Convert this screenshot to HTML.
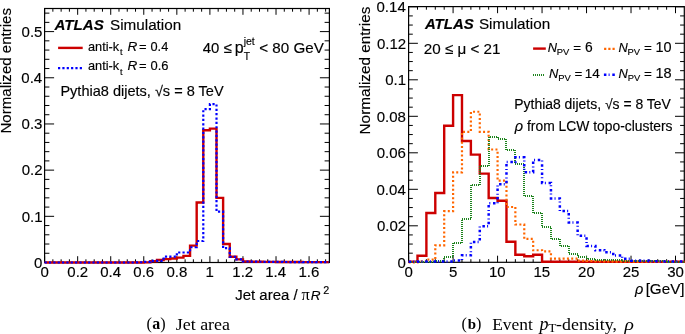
<!DOCTYPE html>
<html><head><meta charset="utf-8"><style>
html,body{margin:0;padding:0;background:#fff;}
text{stroke:#000;stroke-width:0.15px;}
body{width:685px;height:334px;overflow:hidden;}
svg{display:block;will-change:transform;}

</style></head><body>
<svg width="685" height="334" viewBox="0 0 685 334">
<rect width="685" height="334" fill="#fff"/>
<rect x="44.6" y="8.5" width="284.80" height="254.00" fill="none" stroke="#000" stroke-width="1.2"/>
<rect x="408.6" y="6.6" width="275.70" height="255.70" fill="none" stroke="#000" stroke-width="1.2"/>
<line x1="44.60" y1="262.50" x2="44.60" y2="256.20" stroke="#000" stroke-width="1.0"/>
<line x1="44.60" y1="8.50" x2="44.60" y2="14.80" stroke="#000" stroke-width="1.0"/>
<line x1="52.87" y1="262.50" x2="52.87" y2="259.30" stroke="#000" stroke-width="1.0"/>
<line x1="52.87" y1="8.50" x2="52.87" y2="11.70" stroke="#000" stroke-width="1.0"/>
<line x1="61.13" y1="262.50" x2="61.13" y2="259.30" stroke="#000" stroke-width="1.0"/>
<line x1="61.13" y1="8.50" x2="61.13" y2="11.70" stroke="#000" stroke-width="1.0"/>
<line x1="69.40" y1="262.50" x2="69.40" y2="259.30" stroke="#000" stroke-width="1.0"/>
<line x1="69.40" y1="8.50" x2="69.40" y2="11.70" stroke="#000" stroke-width="1.0"/>
<line x1="77.66" y1="262.50" x2="77.66" y2="256.20" stroke="#000" stroke-width="1.0"/>
<line x1="77.66" y1="8.50" x2="77.66" y2="14.80" stroke="#000" stroke-width="1.0"/>
<line x1="85.93" y1="262.50" x2="85.93" y2="259.30" stroke="#000" stroke-width="1.0"/>
<line x1="85.93" y1="8.50" x2="85.93" y2="11.70" stroke="#000" stroke-width="1.0"/>
<line x1="94.19" y1="262.50" x2="94.19" y2="259.30" stroke="#000" stroke-width="1.0"/>
<line x1="94.19" y1="8.50" x2="94.19" y2="11.70" stroke="#000" stroke-width="1.0"/>
<line x1="102.46" y1="262.50" x2="102.46" y2="259.30" stroke="#000" stroke-width="1.0"/>
<line x1="102.46" y1="8.50" x2="102.46" y2="11.70" stroke="#000" stroke-width="1.0"/>
<line x1="110.72" y1="262.50" x2="110.72" y2="256.20" stroke="#000" stroke-width="1.0"/>
<line x1="110.72" y1="8.50" x2="110.72" y2="14.80" stroke="#000" stroke-width="1.0"/>
<line x1="118.99" y1="262.50" x2="118.99" y2="259.30" stroke="#000" stroke-width="1.0"/>
<line x1="118.99" y1="8.50" x2="118.99" y2="11.70" stroke="#000" stroke-width="1.0"/>
<line x1="127.25" y1="262.50" x2="127.25" y2="259.30" stroke="#000" stroke-width="1.0"/>
<line x1="127.25" y1="8.50" x2="127.25" y2="11.70" stroke="#000" stroke-width="1.0"/>
<line x1="135.52" y1="262.50" x2="135.52" y2="259.30" stroke="#000" stroke-width="1.0"/>
<line x1="135.52" y1="8.50" x2="135.52" y2="11.70" stroke="#000" stroke-width="1.0"/>
<line x1="143.78" y1="262.50" x2="143.78" y2="256.20" stroke="#000" stroke-width="1.0"/>
<line x1="143.78" y1="8.50" x2="143.78" y2="14.80" stroke="#000" stroke-width="1.0"/>
<line x1="152.05" y1="262.50" x2="152.05" y2="259.30" stroke="#000" stroke-width="1.0"/>
<line x1="152.05" y1="8.50" x2="152.05" y2="11.70" stroke="#000" stroke-width="1.0"/>
<line x1="160.31" y1="262.50" x2="160.31" y2="259.30" stroke="#000" stroke-width="1.0"/>
<line x1="160.31" y1="8.50" x2="160.31" y2="11.70" stroke="#000" stroke-width="1.0"/>
<line x1="168.58" y1="262.50" x2="168.58" y2="259.30" stroke="#000" stroke-width="1.0"/>
<line x1="168.58" y1="8.50" x2="168.58" y2="11.70" stroke="#000" stroke-width="1.0"/>
<line x1="176.84" y1="262.50" x2="176.84" y2="256.20" stroke="#000" stroke-width="1.0"/>
<line x1="176.84" y1="8.50" x2="176.84" y2="14.80" stroke="#000" stroke-width="1.0"/>
<line x1="185.11" y1="262.50" x2="185.11" y2="259.30" stroke="#000" stroke-width="1.0"/>
<line x1="185.11" y1="8.50" x2="185.11" y2="11.70" stroke="#000" stroke-width="1.0"/>
<line x1="193.37" y1="262.50" x2="193.37" y2="259.30" stroke="#000" stroke-width="1.0"/>
<line x1="193.37" y1="8.50" x2="193.37" y2="11.70" stroke="#000" stroke-width="1.0"/>
<line x1="201.64" y1="262.50" x2="201.64" y2="259.30" stroke="#000" stroke-width="1.0"/>
<line x1="201.64" y1="8.50" x2="201.64" y2="11.70" stroke="#000" stroke-width="1.0"/>
<line x1="209.90" y1="262.50" x2="209.90" y2="256.20" stroke="#000" stroke-width="1.0"/>
<line x1="209.90" y1="8.50" x2="209.90" y2="14.80" stroke="#000" stroke-width="1.0"/>
<line x1="218.17" y1="262.50" x2="218.17" y2="259.30" stroke="#000" stroke-width="1.0"/>
<line x1="218.17" y1="8.50" x2="218.17" y2="11.70" stroke="#000" stroke-width="1.0"/>
<line x1="226.43" y1="262.50" x2="226.43" y2="259.30" stroke="#000" stroke-width="1.0"/>
<line x1="226.43" y1="8.50" x2="226.43" y2="11.70" stroke="#000" stroke-width="1.0"/>
<line x1="234.70" y1="262.50" x2="234.70" y2="259.30" stroke="#000" stroke-width="1.0"/>
<line x1="234.70" y1="8.50" x2="234.70" y2="11.70" stroke="#000" stroke-width="1.0"/>
<line x1="242.96" y1="262.50" x2="242.96" y2="256.20" stroke="#000" stroke-width="1.0"/>
<line x1="242.96" y1="8.50" x2="242.96" y2="14.80" stroke="#000" stroke-width="1.0"/>
<line x1="251.22" y1="262.50" x2="251.22" y2="259.30" stroke="#000" stroke-width="1.0"/>
<line x1="251.22" y1="8.50" x2="251.22" y2="11.70" stroke="#000" stroke-width="1.0"/>
<line x1="259.49" y1="262.50" x2="259.49" y2="259.30" stroke="#000" stroke-width="1.0"/>
<line x1="259.49" y1="8.50" x2="259.49" y2="11.70" stroke="#000" stroke-width="1.0"/>
<line x1="267.76" y1="262.50" x2="267.76" y2="259.30" stroke="#000" stroke-width="1.0"/>
<line x1="267.76" y1="8.50" x2="267.76" y2="11.70" stroke="#000" stroke-width="1.0"/>
<line x1="276.02" y1="262.50" x2="276.02" y2="256.20" stroke="#000" stroke-width="1.0"/>
<line x1="276.02" y1="8.50" x2="276.02" y2="14.80" stroke="#000" stroke-width="1.0"/>
<line x1="284.29" y1="262.50" x2="284.29" y2="259.30" stroke="#000" stroke-width="1.0"/>
<line x1="284.29" y1="8.50" x2="284.29" y2="11.70" stroke="#000" stroke-width="1.0"/>
<line x1="292.55" y1="262.50" x2="292.55" y2="259.30" stroke="#000" stroke-width="1.0"/>
<line x1="292.55" y1="8.50" x2="292.55" y2="11.70" stroke="#000" stroke-width="1.0"/>
<line x1="300.82" y1="262.50" x2="300.82" y2="259.30" stroke="#000" stroke-width="1.0"/>
<line x1="300.82" y1="8.50" x2="300.82" y2="11.70" stroke="#000" stroke-width="1.0"/>
<line x1="309.08" y1="262.50" x2="309.08" y2="256.20" stroke="#000" stroke-width="1.0"/>
<line x1="309.08" y1="8.50" x2="309.08" y2="14.80" stroke="#000" stroke-width="1.0"/>
<line x1="317.35" y1="262.50" x2="317.35" y2="259.30" stroke="#000" stroke-width="1.0"/>
<line x1="317.35" y1="8.50" x2="317.35" y2="11.70" stroke="#000" stroke-width="1.0"/>
<line x1="325.61" y1="262.50" x2="325.61" y2="259.30" stroke="#000" stroke-width="1.0"/>
<line x1="325.61" y1="8.50" x2="325.61" y2="11.70" stroke="#000" stroke-width="1.0"/>
<line x1="44.60" y1="262.50" x2="54.10" y2="262.50" stroke="#000" stroke-width="1.0"/>
<line x1="329.40" y1="262.50" x2="319.90" y2="262.50" stroke="#000" stroke-width="1.0"/>
<line x1="44.60" y1="253.26" x2="49.40" y2="253.26" stroke="#000" stroke-width="1.0"/>
<line x1="329.40" y1="253.26" x2="324.60" y2="253.26" stroke="#000" stroke-width="1.0"/>
<line x1="44.60" y1="244.03" x2="49.40" y2="244.03" stroke="#000" stroke-width="1.0"/>
<line x1="329.40" y1="244.03" x2="324.60" y2="244.03" stroke="#000" stroke-width="1.0"/>
<line x1="44.60" y1="234.79" x2="49.40" y2="234.79" stroke="#000" stroke-width="1.0"/>
<line x1="329.40" y1="234.79" x2="324.60" y2="234.79" stroke="#000" stroke-width="1.0"/>
<line x1="44.60" y1="225.56" x2="49.40" y2="225.56" stroke="#000" stroke-width="1.0"/>
<line x1="329.40" y1="225.56" x2="324.60" y2="225.56" stroke="#000" stroke-width="1.0"/>
<line x1="44.60" y1="216.32" x2="54.10" y2="216.32" stroke="#000" stroke-width="1.0"/>
<line x1="329.40" y1="216.32" x2="319.90" y2="216.32" stroke="#000" stroke-width="1.0"/>
<line x1="44.60" y1="207.08" x2="49.40" y2="207.08" stroke="#000" stroke-width="1.0"/>
<line x1="329.40" y1="207.08" x2="324.60" y2="207.08" stroke="#000" stroke-width="1.0"/>
<line x1="44.60" y1="197.85" x2="49.40" y2="197.85" stroke="#000" stroke-width="1.0"/>
<line x1="329.40" y1="197.85" x2="324.60" y2="197.85" stroke="#000" stroke-width="1.0"/>
<line x1="44.60" y1="188.61" x2="49.40" y2="188.61" stroke="#000" stroke-width="1.0"/>
<line x1="329.40" y1="188.61" x2="324.60" y2="188.61" stroke="#000" stroke-width="1.0"/>
<line x1="44.60" y1="179.38" x2="49.40" y2="179.38" stroke="#000" stroke-width="1.0"/>
<line x1="329.40" y1="179.38" x2="324.60" y2="179.38" stroke="#000" stroke-width="1.0"/>
<line x1="44.60" y1="170.14" x2="54.10" y2="170.14" stroke="#000" stroke-width="1.0"/>
<line x1="329.40" y1="170.14" x2="319.90" y2="170.14" stroke="#000" stroke-width="1.0"/>
<line x1="44.60" y1="160.90" x2="49.40" y2="160.90" stroke="#000" stroke-width="1.0"/>
<line x1="329.40" y1="160.90" x2="324.60" y2="160.90" stroke="#000" stroke-width="1.0"/>
<line x1="44.60" y1="151.67" x2="49.40" y2="151.67" stroke="#000" stroke-width="1.0"/>
<line x1="329.40" y1="151.67" x2="324.60" y2="151.67" stroke="#000" stroke-width="1.0"/>
<line x1="44.60" y1="142.43" x2="49.40" y2="142.43" stroke="#000" stroke-width="1.0"/>
<line x1="329.40" y1="142.43" x2="324.60" y2="142.43" stroke="#000" stroke-width="1.0"/>
<line x1="44.60" y1="133.20" x2="49.40" y2="133.20" stroke="#000" stroke-width="1.0"/>
<line x1="329.40" y1="133.20" x2="324.60" y2="133.20" stroke="#000" stroke-width="1.0"/>
<line x1="44.60" y1="123.96" x2="54.10" y2="123.96" stroke="#000" stroke-width="1.0"/>
<line x1="329.40" y1="123.96" x2="319.90" y2="123.96" stroke="#000" stroke-width="1.0"/>
<line x1="44.60" y1="114.72" x2="49.40" y2="114.72" stroke="#000" stroke-width="1.0"/>
<line x1="329.40" y1="114.72" x2="324.60" y2="114.72" stroke="#000" stroke-width="1.0"/>
<line x1="44.60" y1="105.49" x2="49.40" y2="105.49" stroke="#000" stroke-width="1.0"/>
<line x1="329.40" y1="105.49" x2="324.60" y2="105.49" stroke="#000" stroke-width="1.0"/>
<line x1="44.60" y1="96.25" x2="49.40" y2="96.25" stroke="#000" stroke-width="1.0"/>
<line x1="329.40" y1="96.25" x2="324.60" y2="96.25" stroke="#000" stroke-width="1.0"/>
<line x1="44.60" y1="87.02" x2="49.40" y2="87.02" stroke="#000" stroke-width="1.0"/>
<line x1="329.40" y1="87.02" x2="324.60" y2="87.02" stroke="#000" stroke-width="1.0"/>
<line x1="44.60" y1="77.78" x2="54.10" y2="77.78" stroke="#000" stroke-width="1.0"/>
<line x1="329.40" y1="77.78" x2="319.90" y2="77.78" stroke="#000" stroke-width="1.0"/>
<line x1="44.60" y1="68.54" x2="49.40" y2="68.54" stroke="#000" stroke-width="1.0"/>
<line x1="329.40" y1="68.54" x2="324.60" y2="68.54" stroke="#000" stroke-width="1.0"/>
<line x1="44.60" y1="59.31" x2="49.40" y2="59.31" stroke="#000" stroke-width="1.0"/>
<line x1="329.40" y1="59.31" x2="324.60" y2="59.31" stroke="#000" stroke-width="1.0"/>
<line x1="44.60" y1="50.07" x2="49.40" y2="50.07" stroke="#000" stroke-width="1.0"/>
<line x1="329.40" y1="50.07" x2="324.60" y2="50.07" stroke="#000" stroke-width="1.0"/>
<line x1="44.60" y1="40.84" x2="49.40" y2="40.84" stroke="#000" stroke-width="1.0"/>
<line x1="329.40" y1="40.84" x2="324.60" y2="40.84" stroke="#000" stroke-width="1.0"/>
<line x1="44.60" y1="31.60" x2="54.10" y2="31.60" stroke="#000" stroke-width="1.0"/>
<line x1="329.40" y1="31.60" x2="319.90" y2="31.60" stroke="#000" stroke-width="1.0"/>
<line x1="44.60" y1="22.36" x2="49.40" y2="22.36" stroke="#000" stroke-width="1.0"/>
<line x1="329.40" y1="22.36" x2="324.60" y2="22.36" stroke="#000" stroke-width="1.0"/>
<line x1="44.60" y1="13.13" x2="49.40" y2="13.13" stroke="#000" stroke-width="1.0"/>
<line x1="329.40" y1="13.13" x2="324.60" y2="13.13" stroke="#000" stroke-width="1.0"/>
<line x1="408.60" y1="262.30" x2="408.60" y2="255.70" stroke="#000" stroke-width="1.0"/>
<line x1="408.60" y1="6.60" x2="408.60" y2="13.20" stroke="#000" stroke-width="1.0"/>
<line x1="417.50" y1="262.30" x2="417.50" y2="259.20" stroke="#000" stroke-width="1.0"/>
<line x1="417.50" y1="6.60" x2="417.50" y2="9.70" stroke="#000" stroke-width="1.0"/>
<line x1="426.39" y1="262.30" x2="426.39" y2="259.20" stroke="#000" stroke-width="1.0"/>
<line x1="426.39" y1="6.60" x2="426.39" y2="9.70" stroke="#000" stroke-width="1.0"/>
<line x1="435.29" y1="262.30" x2="435.29" y2="259.20" stroke="#000" stroke-width="1.0"/>
<line x1="435.29" y1="6.60" x2="435.29" y2="9.70" stroke="#000" stroke-width="1.0"/>
<line x1="444.19" y1="262.30" x2="444.19" y2="259.20" stroke="#000" stroke-width="1.0"/>
<line x1="444.19" y1="6.60" x2="444.19" y2="9.70" stroke="#000" stroke-width="1.0"/>
<line x1="453.09" y1="262.30" x2="453.09" y2="255.70" stroke="#000" stroke-width="1.0"/>
<line x1="453.09" y1="6.60" x2="453.09" y2="13.20" stroke="#000" stroke-width="1.0"/>
<line x1="461.98" y1="262.30" x2="461.98" y2="259.20" stroke="#000" stroke-width="1.0"/>
<line x1="461.98" y1="6.60" x2="461.98" y2="9.70" stroke="#000" stroke-width="1.0"/>
<line x1="470.88" y1="262.30" x2="470.88" y2="259.20" stroke="#000" stroke-width="1.0"/>
<line x1="470.88" y1="6.60" x2="470.88" y2="9.70" stroke="#000" stroke-width="1.0"/>
<line x1="479.78" y1="262.30" x2="479.78" y2="259.20" stroke="#000" stroke-width="1.0"/>
<line x1="479.78" y1="6.60" x2="479.78" y2="9.70" stroke="#000" stroke-width="1.0"/>
<line x1="488.67" y1="262.30" x2="488.67" y2="259.20" stroke="#000" stroke-width="1.0"/>
<line x1="488.67" y1="6.60" x2="488.67" y2="9.70" stroke="#000" stroke-width="1.0"/>
<line x1="497.57" y1="262.30" x2="497.57" y2="255.70" stroke="#000" stroke-width="1.0"/>
<line x1="497.57" y1="6.60" x2="497.57" y2="13.20" stroke="#000" stroke-width="1.0"/>
<line x1="506.47" y1="262.30" x2="506.47" y2="259.20" stroke="#000" stroke-width="1.0"/>
<line x1="506.47" y1="6.60" x2="506.47" y2="9.70" stroke="#000" stroke-width="1.0"/>
<line x1="515.36" y1="262.30" x2="515.36" y2="259.20" stroke="#000" stroke-width="1.0"/>
<line x1="515.36" y1="6.60" x2="515.36" y2="9.70" stroke="#000" stroke-width="1.0"/>
<line x1="524.26" y1="262.30" x2="524.26" y2="259.20" stroke="#000" stroke-width="1.0"/>
<line x1="524.26" y1="6.60" x2="524.26" y2="9.70" stroke="#000" stroke-width="1.0"/>
<line x1="533.16" y1="262.30" x2="533.16" y2="259.20" stroke="#000" stroke-width="1.0"/>
<line x1="533.16" y1="6.60" x2="533.16" y2="9.70" stroke="#000" stroke-width="1.0"/>
<line x1="542.06" y1="262.30" x2="542.06" y2="255.70" stroke="#000" stroke-width="1.0"/>
<line x1="542.06" y1="6.60" x2="542.06" y2="13.20" stroke="#000" stroke-width="1.0"/>
<line x1="550.95" y1="262.30" x2="550.95" y2="259.20" stroke="#000" stroke-width="1.0"/>
<line x1="550.95" y1="6.60" x2="550.95" y2="9.70" stroke="#000" stroke-width="1.0"/>
<line x1="559.85" y1="262.30" x2="559.85" y2="259.20" stroke="#000" stroke-width="1.0"/>
<line x1="559.85" y1="6.60" x2="559.85" y2="9.70" stroke="#000" stroke-width="1.0"/>
<line x1="568.75" y1="262.30" x2="568.75" y2="259.20" stroke="#000" stroke-width="1.0"/>
<line x1="568.75" y1="6.60" x2="568.75" y2="9.70" stroke="#000" stroke-width="1.0"/>
<line x1="577.64" y1="262.30" x2="577.64" y2="259.20" stroke="#000" stroke-width="1.0"/>
<line x1="577.64" y1="6.60" x2="577.64" y2="9.70" stroke="#000" stroke-width="1.0"/>
<line x1="586.54" y1="262.30" x2="586.54" y2="255.70" stroke="#000" stroke-width="1.0"/>
<line x1="586.54" y1="6.60" x2="586.54" y2="13.20" stroke="#000" stroke-width="1.0"/>
<line x1="595.44" y1="262.30" x2="595.44" y2="259.20" stroke="#000" stroke-width="1.0"/>
<line x1="595.44" y1="6.60" x2="595.44" y2="9.70" stroke="#000" stroke-width="1.0"/>
<line x1="604.33" y1="262.30" x2="604.33" y2="259.20" stroke="#000" stroke-width="1.0"/>
<line x1="604.33" y1="6.60" x2="604.33" y2="9.70" stroke="#000" stroke-width="1.0"/>
<line x1="613.23" y1="262.30" x2="613.23" y2="259.20" stroke="#000" stroke-width="1.0"/>
<line x1="613.23" y1="6.60" x2="613.23" y2="9.70" stroke="#000" stroke-width="1.0"/>
<line x1="622.13" y1="262.30" x2="622.13" y2="259.20" stroke="#000" stroke-width="1.0"/>
<line x1="622.13" y1="6.60" x2="622.13" y2="9.70" stroke="#000" stroke-width="1.0"/>
<line x1="631.03" y1="262.30" x2="631.03" y2="255.70" stroke="#000" stroke-width="1.0"/>
<line x1="631.03" y1="6.60" x2="631.03" y2="13.20" stroke="#000" stroke-width="1.0"/>
<line x1="639.92" y1="262.30" x2="639.92" y2="259.20" stroke="#000" stroke-width="1.0"/>
<line x1="639.92" y1="6.60" x2="639.92" y2="9.70" stroke="#000" stroke-width="1.0"/>
<line x1="648.82" y1="262.30" x2="648.82" y2="259.20" stroke="#000" stroke-width="1.0"/>
<line x1="648.82" y1="6.60" x2="648.82" y2="9.70" stroke="#000" stroke-width="1.0"/>
<line x1="657.72" y1="262.30" x2="657.72" y2="259.20" stroke="#000" stroke-width="1.0"/>
<line x1="657.72" y1="6.60" x2="657.72" y2="9.70" stroke="#000" stroke-width="1.0"/>
<line x1="666.61" y1="262.30" x2="666.61" y2="259.20" stroke="#000" stroke-width="1.0"/>
<line x1="666.61" y1="6.60" x2="666.61" y2="9.70" stroke="#000" stroke-width="1.0"/>
<line x1="675.51" y1="262.30" x2="675.51" y2="255.70" stroke="#000" stroke-width="1.0"/>
<line x1="675.51" y1="6.60" x2="675.51" y2="13.20" stroke="#000" stroke-width="1.0"/>
<line x1="408.60" y1="262.30" x2="417.90" y2="262.30" stroke="#000" stroke-width="1.0"/>
<line x1="684.30" y1="262.30" x2="675.00" y2="262.30" stroke="#000" stroke-width="1.0"/>
<line x1="408.60" y1="253.18" x2="412.80" y2="253.18" stroke="#000" stroke-width="1.0"/>
<line x1="684.30" y1="253.18" x2="680.10" y2="253.18" stroke="#000" stroke-width="1.0"/>
<line x1="408.60" y1="244.05" x2="412.80" y2="244.05" stroke="#000" stroke-width="1.0"/>
<line x1="684.30" y1="244.05" x2="680.10" y2="244.05" stroke="#000" stroke-width="1.0"/>
<line x1="408.60" y1="234.93" x2="412.80" y2="234.93" stroke="#000" stroke-width="1.0"/>
<line x1="684.30" y1="234.93" x2="680.10" y2="234.93" stroke="#000" stroke-width="1.0"/>
<line x1="408.60" y1="225.80" x2="417.90" y2="225.80" stroke="#000" stroke-width="1.0"/>
<line x1="684.30" y1="225.80" x2="675.00" y2="225.80" stroke="#000" stroke-width="1.0"/>
<line x1="408.60" y1="216.68" x2="412.80" y2="216.68" stroke="#000" stroke-width="1.0"/>
<line x1="684.30" y1="216.68" x2="680.10" y2="216.68" stroke="#000" stroke-width="1.0"/>
<line x1="408.60" y1="207.55" x2="412.80" y2="207.55" stroke="#000" stroke-width="1.0"/>
<line x1="684.30" y1="207.55" x2="680.10" y2="207.55" stroke="#000" stroke-width="1.0"/>
<line x1="408.60" y1="198.43" x2="412.80" y2="198.43" stroke="#000" stroke-width="1.0"/>
<line x1="684.30" y1="198.43" x2="680.10" y2="198.43" stroke="#000" stroke-width="1.0"/>
<line x1="408.60" y1="189.30" x2="417.90" y2="189.30" stroke="#000" stroke-width="1.0"/>
<line x1="684.30" y1="189.30" x2="675.00" y2="189.30" stroke="#000" stroke-width="1.0"/>
<line x1="408.60" y1="180.18" x2="412.80" y2="180.18" stroke="#000" stroke-width="1.0"/>
<line x1="684.30" y1="180.18" x2="680.10" y2="180.18" stroke="#000" stroke-width="1.0"/>
<line x1="408.60" y1="171.05" x2="412.80" y2="171.05" stroke="#000" stroke-width="1.0"/>
<line x1="684.30" y1="171.05" x2="680.10" y2="171.05" stroke="#000" stroke-width="1.0"/>
<line x1="408.60" y1="161.93" x2="412.80" y2="161.93" stroke="#000" stroke-width="1.0"/>
<line x1="684.30" y1="161.93" x2="680.10" y2="161.93" stroke="#000" stroke-width="1.0"/>
<line x1="408.60" y1="152.80" x2="417.90" y2="152.80" stroke="#000" stroke-width="1.0"/>
<line x1="684.30" y1="152.80" x2="675.00" y2="152.80" stroke="#000" stroke-width="1.0"/>
<line x1="408.60" y1="143.68" x2="412.80" y2="143.68" stroke="#000" stroke-width="1.0"/>
<line x1="684.30" y1="143.68" x2="680.10" y2="143.68" stroke="#000" stroke-width="1.0"/>
<line x1="408.60" y1="134.55" x2="412.80" y2="134.55" stroke="#000" stroke-width="1.0"/>
<line x1="684.30" y1="134.55" x2="680.10" y2="134.55" stroke="#000" stroke-width="1.0"/>
<line x1="408.60" y1="125.43" x2="412.80" y2="125.43" stroke="#000" stroke-width="1.0"/>
<line x1="684.30" y1="125.43" x2="680.10" y2="125.43" stroke="#000" stroke-width="1.0"/>
<line x1="408.60" y1="116.30" x2="417.90" y2="116.30" stroke="#000" stroke-width="1.0"/>
<line x1="684.30" y1="116.30" x2="675.00" y2="116.30" stroke="#000" stroke-width="1.0"/>
<line x1="408.60" y1="107.18" x2="412.80" y2="107.18" stroke="#000" stroke-width="1.0"/>
<line x1="684.30" y1="107.18" x2="680.10" y2="107.18" stroke="#000" stroke-width="1.0"/>
<line x1="408.60" y1="98.05" x2="412.80" y2="98.05" stroke="#000" stroke-width="1.0"/>
<line x1="684.30" y1="98.05" x2="680.10" y2="98.05" stroke="#000" stroke-width="1.0"/>
<line x1="408.60" y1="88.93" x2="412.80" y2="88.93" stroke="#000" stroke-width="1.0"/>
<line x1="684.30" y1="88.93" x2="680.10" y2="88.93" stroke="#000" stroke-width="1.0"/>
<line x1="408.60" y1="79.80" x2="417.90" y2="79.80" stroke="#000" stroke-width="1.0"/>
<line x1="684.30" y1="79.80" x2="675.00" y2="79.80" stroke="#000" stroke-width="1.0"/>
<line x1="408.60" y1="70.68" x2="412.80" y2="70.68" stroke="#000" stroke-width="1.0"/>
<line x1="684.30" y1="70.68" x2="680.10" y2="70.68" stroke="#000" stroke-width="1.0"/>
<line x1="408.60" y1="61.55" x2="412.80" y2="61.55" stroke="#000" stroke-width="1.0"/>
<line x1="684.30" y1="61.55" x2="680.10" y2="61.55" stroke="#000" stroke-width="1.0"/>
<line x1="408.60" y1="52.43" x2="412.80" y2="52.43" stroke="#000" stroke-width="1.0"/>
<line x1="684.30" y1="52.43" x2="680.10" y2="52.43" stroke="#000" stroke-width="1.0"/>
<line x1="408.60" y1="43.30" x2="417.90" y2="43.30" stroke="#000" stroke-width="1.0"/>
<line x1="684.30" y1="43.30" x2="675.00" y2="43.30" stroke="#000" stroke-width="1.0"/>
<line x1="408.60" y1="34.18" x2="412.80" y2="34.18" stroke="#000" stroke-width="1.0"/>
<line x1="684.30" y1="34.18" x2="680.10" y2="34.18" stroke="#000" stroke-width="1.0"/>
<line x1="408.60" y1="25.05" x2="412.80" y2="25.05" stroke="#000" stroke-width="1.0"/>
<line x1="684.30" y1="25.05" x2="680.10" y2="25.05" stroke="#000" stroke-width="1.0"/>
<line x1="408.60" y1="15.92" x2="412.80" y2="15.92" stroke="#000" stroke-width="1.0"/>
<line x1="684.30" y1="15.92" x2="680.10" y2="15.92" stroke="#000" stroke-width="1.0"/>
<line x1="408.60" y1="6.80" x2="417.90" y2="6.80" stroke="#000" stroke-width="1.0"/>
<line x1="684.30" y1="6.80" x2="675.00" y2="6.80" stroke="#000" stroke-width="1.0"/>
<path d="M44.60,262.50 L51.21,262.50 L51.21,262.50 L57.82,262.50 L57.82,262.50 L64.44,262.50 L64.44,262.50 L71.05,262.50 L71.05,262.50 L77.66,262.50 L77.66,262.50 L84.27,262.50 L84.27,262.50 L90.88,262.50 L90.88,262.50 L97.50,262.50 L97.50,262.50 L104.11,262.50 L104.11,262.50 L110.72,262.50 L110.72,262.50 L117.33,262.50 L117.33,262.50 L123.94,262.50 L123.94,262.50 L130.56,262.50 L130.56,262.50 L137.17,262.50 L137.17,262.50 L143.78,262.50 L143.78,262.41 L150.39,262.41 L150.39,261.30 L157.00,261.30 L157.00,260.01 L163.62,260.01 L163.62,259.08 L170.23,259.08 L170.23,258.48 L176.84,258.48 L176.84,257.60 L183.45,257.60 L183.45,255.90 L190.06,255.90 L190.06,245.60 L196.68,245.60 L196.68,202.47 L203.29,202.47 L203.29,130.19 L209.90,130.19 L209.90,128.58 L216.51,128.58 L216.51,197.85 L223.12,197.85 L223.12,244.03 L229.74,244.03 L229.74,256.73 L236.35,256.73 L236.35,259.36 L242.96,259.36 L242.96,261.48 L249.57,261.48 L249.57,261.67 L256.18,261.67 L256.18,261.76 L262.80,261.76 L262.80,261.85 L269.41,261.85 L269.41,261.90 L276.02,261.90 L276.02,261.95 L282.63,261.95 L282.63,261.99 L289.24,261.99 L289.24,262.04 L295.86,262.04 L295.86,262.04 L302.47,262.04 L302.47,262.08 L309.08,262.08 L309.08,262.08 L315.69,262.08 L315.69,262.13 L322.30,262.13 L322.30,262.13 L328.92,262.13" fill="none" stroke="#cc0000" stroke-width="2.4" stroke-linejoin="miter" stroke-linecap="butt"/>
<path d="M44.60,262.50 L51.21,262.50 L51.21,262.50 L57.82,262.50 L57.82,262.50 L64.44,262.50 L64.44,262.50 L71.05,262.50 L71.05,262.50 L77.66,262.50 L77.66,262.50 L84.27,262.50 L84.27,262.50 L90.88,262.50 L90.88,262.50 L97.50,262.50 L97.50,262.50 L104.11,262.50 L104.11,262.50 L110.72,262.50 L110.72,262.50 L117.33,262.50 L117.33,262.50 L123.94,262.50 L123.94,262.50 L130.56,262.50 L130.56,262.50 L137.17,262.50 L137.17,262.27 L143.78,262.27 L143.78,261.95 L150.39,261.95 L150.39,260.88 L157.00,260.88 L157.00,260.88 L163.62,260.88 L163.62,256.68 L170.23,256.68 L170.23,256.68 L176.84,256.68 L176.84,252.48 L183.45,252.48 L183.45,252.48 L190.06,252.48 L190.06,247.26 L196.68,247.26 L196.68,240.98 L203.29,240.98 L203.29,109.18 L209.90,109.18 L209.90,104.10 L216.51,104.10 L216.51,211.70 L223.12,211.70 L223.12,248.18 L229.74,248.18 L229.74,256.73 L236.35,256.73 L236.35,259.36 L242.96,259.36 L242.96,261.48 L249.57,261.48 L249.57,261.67 L256.18,261.67 L256.18,261.76 L262.80,261.76 L262.80,261.85 L269.41,261.85 L269.41,261.90 L276.02,261.90 L276.02,261.95 L282.63,261.95 L282.63,261.99 L289.24,261.99 L289.24,262.04 L295.86,262.04 L295.86,262.04 L302.47,262.04 L302.47,262.08 L309.08,262.08 L309.08,262.08 L315.69,262.08 L315.69,262.13 L322.30,262.13 L322.30,262.13 L328.92,262.13" fill="none" stroke="#0000ff" stroke-width="2.2" stroke-linejoin="miter" stroke-linecap="butt" stroke-dasharray="2.2 2.15"/>
<path d="M408.60,261.75 L417.50,261.75 L417.50,255.73 L426.39,255.73 L426.39,213.03 L435.29,213.03 L435.29,192.95 L444.19,192.95 L444.19,125.79 L453.09,125.79 L453.09,95.13 L461.98,95.13 L461.98,140.94 L470.88,140.94 L470.88,154.62 L479.78,154.62 L479.78,173.61 L488.67,173.61 L488.67,198.06 L497.57,198.06 L497.57,200.80 L506.47,200.80 L506.47,241.68 L515.36,241.68 L515.36,254.82 L524.26,254.82 L524.26,256.28 L533.16,256.28 L533.16,254.82 L542.06,254.82 L542.06,261.75 L550.95,261.75 L550.95,261.75 L559.85,261.75 L559.85,261.75 L568.75,261.75 L568.75,261.75 L577.64,261.75 L577.64,261.75 L586.54,261.75 L586.54,261.75 L595.44,261.75 L595.44,261.75 L604.33,261.75 L604.33,261.75 L613.23,261.75 L613.23,261.75 L622.13,261.75 L622.13,261.75 L631.03,261.75 L631.03,261.75 L639.92,261.75 L639.92,261.75 L648.82,261.75 L648.82,261.75 L657.72,261.75 L657.72,261.75 L666.61,261.75 L666.61,261.75 L675.51,261.75 L675.51,261.75 L684.41,261.75" fill="none" stroke="#cc0000" stroke-width="2.4" stroke-linejoin="miter" stroke-linecap="butt"/>
<path d="M408.60,262.30 L417.50,262.30 L417.50,261.39 L426.39,261.39 L426.39,259.56 L435.29,259.56 L435.29,245.33 L444.19,245.33 L444.19,211.20 L453.09,211.20 L453.09,172.33 L461.98,172.33 L461.98,131.81 L470.88,131.81 L470.88,111.74 L479.78,111.74 L479.78,131.81 L488.67,131.81 L488.67,149.52 L497.57,149.52 L497.57,180.72 L506.47,180.72 L506.47,207.00 L515.36,207.00 L515.36,224.52 L524.26,224.52 L524.26,238.94 L533.16,238.94 L533.16,250.26 L542.06,250.26 L542.06,251.35 L550.95,251.35 L550.95,258.65 L559.85,258.65 L559.85,258.65 L568.75,258.65 L568.75,258.65 L577.64,258.65 L577.64,260.66 L586.54,260.66 L586.54,261.02 L595.44,261.02 L595.44,261.20 L604.33,261.20 L604.33,261.39 L613.23,261.39 L613.23,261.57 L622.13,261.57 L622.13,261.57 L631.03,261.57 L631.03,261.75 L639.92,261.75 L639.92,261.75 L648.82,261.75 L648.82,261.75 L657.72,261.75 L657.72,261.94 L666.61,261.94 L666.61,261.94 L675.51,261.94 L675.51,261.94 L684.41,261.94" fill="none" stroke="#ff6600" stroke-width="2.2" stroke-linejoin="miter" stroke-linecap="butt" stroke-dasharray="2 2.3"/>
<path d="M409.00,262.00 L417.00,262.00 L417.00,262.00 L426.00,262.00 L426.00,262.00 L435.00,262.00 L435.00,261.00 L444.00,261.00 L444.00,257.00 L453.00,257.00 L453.00,243.00 L462.00,243.00 L462.00,219.00 L471.00,219.00 L471.00,185.00 L480.00,185.00 L480.00,166.00 L489.00,166.00 L489.00,137.00 L498.00,137.00 L498.00,139.00 L506.00,139.00 L506.00,150.00 L515.00,150.00 L515.00,164.00 L524.00,164.00 L524.00,196.00 L533.00,196.00 L533.00,213.00 L542.00,213.00 L542.00,227.00 L551.00,227.00 L551.00,239.00 L560.00,239.00 L560.00,246.00 L569.00,246.00 L569.00,254.00 L578.00,254.00 L578.00,257.00 L587.00,257.00 L587.00,259.00 L595.00,259.00 L595.00,260.00 L604.00,260.00 L604.00,260.00 L613.00,260.00 L613.00,260.00 L622.00,260.00 L622.00,261.00 L631.00,261.00 L631.00,261.00 L640.00,261.00 L640.00,261.00 L649.00,261.00 L649.00,261.00 L658.00,261.00 L658.00,261.00 L667.00,261.00 L667.00,262.00 L676.00,262.00 L676.00,262.00 L684.00,262.00" fill="none" stroke="#1e841e" stroke-width="2.0" stroke-linejoin="miter" stroke-linecap="butt" stroke-dasharray="1 1"/>
<path d="M408.60,261.75 L417.50,261.75 L417.50,261.57 L426.39,261.57 L426.39,261.57 L435.29,261.57 L435.29,261.39 L444.19,261.39 L444.19,261.39 L453.09,261.39 L453.09,260.48 L461.98,260.48 L461.98,255.37 L470.88,255.37 L470.88,242.04 L479.78,242.04 L479.78,226.35 L488.67,226.35 L488.67,203.35 L497.57,203.35 L497.57,184.19 L506.47,184.19 L506.47,161.93 L515.36,161.93 L515.36,157.36 L524.26,157.36 L524.26,172.15 L533.16,172.15 L533.16,160.10 L542.06,160.10 L542.06,182.91 L550.95,182.91 L550.95,198.43 L559.85,198.43 L559.85,211.02 L568.75,211.02 L568.75,222.52 L577.64,222.52 L577.64,235.84 L586.54,235.84 L586.54,245.88 L595.44,245.88 L595.44,250.26 L604.33,250.26 L604.33,252.26 L613.23,252.26 L613.23,255.55 L622.13,255.55 L622.13,258.65 L631.03,258.65 L631.03,260.66 L639.92,260.66 L639.92,260.66 L648.82,260.66 L648.82,261.20 L657.72,261.20 L657.72,261.39 L666.61,261.39 L666.61,261.39 L675.51,261.39 L675.51,261.57 L684.41,261.57" fill="none" stroke="#0000ff" stroke-width="2.5" stroke-linejoin="miter" stroke-linecap="butt" stroke-dasharray="2.5 2.2 1 2.7"/>
<text transform="translate(11.4,133.54) rotate(-90)" font-size="15.07" font-family='"Liberation Sans", sans-serif'>Normalized entries</text>
<text x="21.55" y="36.80" font-size="15.00" font-family='"Liberation Sans", sans-serif' fill="#000">0.5</text>
<text x="21.36" y="82.98" font-size="15.00" font-family='"Liberation Sans", sans-serif' fill="#000">0.4</text>
<text x="21.59" y="129.16" font-size="15.00" font-family='"Liberation Sans", sans-serif' fill="#000">0.3</text>
<text x="21.70" y="175.34" font-size="15.00" font-family='"Liberation Sans", sans-serif' fill="#000">0.2</text>
<text x="21.66" y="221.52" font-size="15.00" font-family='"Liberation Sans", sans-serif' fill="#000">0.1</text>
<text x="34.04" y="267.70" font-size="15.00" font-family='"Liberation Sans", sans-serif' fill="#000">0</text>
<text x="40.42" y="276.90" font-size="15.00" font-family='"Liberation Sans", sans-serif' fill="#000">0</text>
<text x="67.31" y="276.90" font-size="15.00" font-family='"Liberation Sans", sans-serif' fill="#000">0.2</text>
<text x="100.20" y="276.90" font-size="15.00" font-family='"Liberation Sans", sans-serif' fill="#000">0.4</text>
<text x="133.37" y="276.90" font-size="15.00" font-family='"Liberation Sans", sans-serif' fill="#000">0.6</text>
<text x="166.43" y="276.90" font-size="15.00" font-family='"Liberation Sans", sans-serif' fill="#000">0.8</text>
<text x="205.53" y="276.90" font-size="15.00" font-family='"Liberation Sans", sans-serif' fill="#000">1</text>
<text x="232.35" y="276.90" font-size="15.00" font-family='"Liberation Sans", sans-serif' fill="#000">1.2</text>
<text x="265.24" y="276.90" font-size="15.00" font-family='"Liberation Sans", sans-serif' fill="#000">1.4</text>
<text x="298.41" y="276.90" font-size="15.00" font-family='"Liberation Sans", sans-serif' fill="#000">1.6</text>
<text x="235.18" y="300.40" font-size="14.99" font-family='"Liberation Sans", sans-serif' fill="#000">Jet area /</text>
<text x="301.60" y="300.40" font-size="16.34" font-family='"Liberation Serif", serif' style="stroke-width:0" fill="#000">π</text>
<text x="310.79" y="300.30" font-size="13.58" font-family='"Liberation Sans", sans-serif' font-style="italic" fill="#000">R</text>
<text x="323.36" y="293.60" font-size="10.77" font-family='"Liberation Sans", sans-serif' fill="#000">2</text>
<text x="54.50" y="30.10" font-size="15.14" font-family='"Liberation Sans", sans-serif' font-style="italic" font-weight="bold" fill="#000">ATLAS</text>
<text x="110.01" y="30.10" font-size="15.26" font-family='"Liberation Sans", sans-serif' fill="#000">Simulation</text>
<line x1="58.10" y1="47.90" x2="82.70" y2="47.90" stroke="#cc0000" stroke-width="2.4"/>
<line x1="58.00" y1="68.10" x2="82.90" y2="68.10" stroke="#0000ff" stroke-width="2.2" stroke-dasharray="2.2 2.15"/>
<text x="87.96" y="50.60" font-size="12.78" font-family='"Liberation Sans", sans-serif' fill="#000">anti-k</text>
<text x="119.96" y="55.40" font-size="9.00" font-family='"Liberation Sans", sans-serif' fill="#000">t</text>
<text x="127.49" y="50.60" font-size="13.58" font-family='"Liberation Sans", sans-serif' font-style="italic" fill="#000">R</text>
<text x="138.98" y="50.60" font-size="13.00" font-family='"Liberation Sans", sans-serif' fill="#000">=</text>
<text x="150.49" y="50.60" font-size="12.78" font-family='"Liberation Sans", sans-serif' fill="#000">0.4</text>
<text x="87.96" y="69.90" font-size="12.78" font-family='"Liberation Sans", sans-serif' fill="#000">anti-k</text>
<text x="119.96" y="74.70" font-size="9.00" font-family='"Liberation Sans", sans-serif' fill="#000">t</text>
<text x="127.49" y="69.90" font-size="13.58" font-family='"Liberation Sans", sans-serif' font-style="italic" fill="#000">R</text>
<text x="138.98" y="69.90" font-size="13.00" font-family='"Liberation Sans", sans-serif' fill="#000">=</text>
<text x="150.48" y="69.90" font-size="12.93" font-family='"Liberation Sans", sans-serif' fill="#000">0.6</text>
<text x="202.76" y="53.00" font-size="14.91" font-family='"Liberation Sans", sans-serif' fill="#000">40 ≤</text>
<text x="234.76" y="53.00" font-size="16.50" font-family='"Liberation Sans", sans-serif' fill="#000" textLength="8.90" lengthAdjust="spacingAndGlyphs">p</text>
<text x="243.66" y="44.60" font-size="10.54" font-family='"Liberation Sans", sans-serif' fill="#000">jet</text>
<text x="243.67" y="60.20" font-size="10.27" font-family='"Liberation Sans", sans-serif' fill="#000">T</text>
<text x="259.24" y="53.00" font-size="15.20" font-family='"Liberation Sans", sans-serif' fill="#000">&lt; 80 GeV</text>
<text x="60.40" y="95.80" font-size="14.54" font-family='"Liberation Sans", sans-serif' fill="#000">Pythia8 dijets, √s = 8 TeV</text>
<text transform="translate(369.8,134.46) rotate(-90)" font-size="15.33" font-family='"Liberation Sans", sans-serif'>Normalized entries</text>
<text x="397.54" y="267.50" font-size="15.00" font-family='"Liberation Sans", sans-serif' fill="#000">0</text>
<text x="376.88" y="231.00" font-size="15.00" font-family='"Liberation Sans", sans-serif' fill="#000">0.02</text>
<text x="376.54" y="194.50" font-size="15.00" font-family='"Liberation Sans", sans-serif' fill="#000">0.04</text>
<text x="376.76" y="158.00" font-size="15.00" font-family='"Liberation Sans", sans-serif' fill="#000">0.06</text>
<text x="376.76" y="121.50" font-size="15.00" font-family='"Liberation Sans", sans-serif' fill="#000">0.08</text>
<text x="385.16" y="85.00" font-size="15.00" font-family='"Liberation Sans", sans-serif' fill="#000">0.1</text>
<text x="376.88" y="48.50" font-size="15.00" font-family='"Liberation Sans", sans-serif' fill="#000">0.12</text>
<text x="376.54" y="12.00" font-size="15.00" font-family='"Liberation Sans", sans-serif' fill="#000">0.14</text>
<text x="404.42" y="276.90" font-size="15.00" font-family='"Liberation Sans", sans-serif' fill="#000">0</text>
<text x="448.92" y="276.90" font-size="15.00" font-family='"Liberation Sans", sans-serif' fill="#000">5</text>
<text x="488.96" y="276.90" font-size="15.00" font-family='"Liberation Sans", sans-serif' fill="#000">10</text>
<text x="533.47" y="276.90" font-size="15.00" font-family='"Liberation Sans", sans-serif' fill="#000">15</text>
<text x="578.12" y="276.90" font-size="15.00" font-family='"Liberation Sans", sans-serif' fill="#000">20</text>
<text x="622.63" y="276.90" font-size="15.00" font-family='"Liberation Sans", sans-serif' fill="#000">25</text>
<text x="667.18" y="276.90" font-size="15.00" font-family='"Liberation Sans", sans-serif' fill="#000">30</text>
<text x="634.96" y="294.40" font-size="14.50" font-family='"Liberation Sans", sans-serif' font-style="italic" fill="#000">ρ</text>
<text x="645.63" y="294.40" font-size="15.22" font-family='"Liberation Sans", sans-serif' fill="#000">[GeV]</text>
<text x="424.90" y="28.60" font-size="14.98" font-family='"Liberation Sans", sans-serif' font-style="italic" font-weight="bold" fill="#000">ATLAS</text>
<text x="478.91" y="28.60" font-size="15.26" font-family='"Liberation Sans", sans-serif' fill="#000">Simulation</text>
<text x="423.84" y="54.40" font-size="15.20" font-family='"Liberation Sans", sans-serif' fill="#000">20 ≤ μ &lt; 21</text>
<line x1="533.10" y1="48.60" x2="545.80" y2="48.60" stroke="#cc0000" stroke-width="2.4"/>
<line x1="604.10" y1="48.80" x2="615.20" y2="48.80" stroke="#ff6600" stroke-width="2.2" stroke-dasharray="2.2 2.0"/>
<line x1="533.00" y1="75.00" x2="545.00" y2="75.00" stroke="#1e841e" stroke-width="2.0" stroke-dasharray="1 1"/>
<line x1="603.90" y1="74.70" x2="615.20" y2="74.70" stroke="#0000ff" stroke-width="2.5" stroke-dasharray="2.5 2.2 1 2.7"/>
<text x="547.81" y="51.70" font-size="12.85" font-family='"Liberation Sans", sans-serif' font-style="italic" fill="#000">N</text>
<text x="556.83" y="55.30" font-size="9.38" font-family='"Liberation Sans", sans-serif' fill="#000">PV</text>
<text x="573.26" y="51.70" font-size="13.50" font-family='"Liberation Sans", sans-serif' fill="#000">=</text>
<text x="585.01" y="51.70" font-size="13.84" font-family='"Liberation Sans", sans-serif' fill="#000">6</text>
<text x="618.51" y="51.60" font-size="12.85" font-family='"Liberation Sans", sans-serif' font-style="italic" fill="#000">N</text>
<text x="627.53" y="55.20" font-size="9.38" font-family='"Liberation Sans", sans-serif' fill="#000">PV</text>
<text x="643.96" y="51.60" font-size="13.50" font-family='"Liberation Sans", sans-serif' fill="#000">=</text>
<text x="655.52" y="51.60" font-size="14.44" font-family='"Liberation Sans", sans-serif' fill="#000">10</text>
<text x="549.11" y="77.60" font-size="12.85" font-family='"Liberation Sans", sans-serif' font-style="italic" fill="#000">N</text>
<text x="558.13" y="81.20" font-size="9.38" font-family='"Liberation Sans", sans-serif' fill="#000">PV</text>
<text x="574.56" y="77.60" font-size="13.50" font-family='"Liberation Sans", sans-serif' fill="#000">=</text>
<text x="584.69" y="77.60" font-size="13.50" font-family='"Liberation Sans", sans-serif' fill="#000">14</text>
<text x="618.61" y="77.60" font-size="12.85" font-family='"Liberation Sans", sans-serif' font-style="italic" fill="#000">N</text>
<text x="627.63" y="81.20" font-size="9.38" font-family='"Liberation Sans", sans-serif' fill="#000">PV</text>
<text x="644.06" y="77.60" font-size="13.50" font-family='"Liberation Sans", sans-serif' fill="#000">=</text>
<text x="655.51" y="77.60" font-size="14.51" font-family='"Liberation Sans", sans-serif' fill="#000">18</text>
<text x="514.25" y="108.80" font-size="13.94" font-family='"Liberation Sans", sans-serif' fill="#000">Pythia8 dijets, √s = 8 TeV</text>
<text x="514.66" y="131.30" font-size="14.50" font-family='"Liberation Sans", sans-serif' font-style="italic" fill="#000">ρ</text>
<text x="526.99" y="131.30" font-size="13.86" font-family='"Liberation Sans", sans-serif' fill="#000">from LCW topo-clusters</text>
<text x="146.61" y="328.90" font-size="16.20" font-family='"Liberation Serif", serif' style="stroke-width:0" fill="#000">(</text>
<text x="152.18" y="328.90" font-size="15.91" font-family='"Liberation Serif", serif' style="stroke-width:0" font-weight="bold" fill="#000">a</text>
<text x="160.30" y="328.90" font-size="16.20" font-family='"Liberation Serif", serif' style="stroke-width:0" fill="#000">)</text>
<text x="175.74" y="329.80" font-size="17.30" font-family='"Liberation Serif", serif' style="stroke-width:0" fill="#000" textLength="54.29" lengthAdjust="spacingAndGlyphs">Jet area</text>
<text x="461.61" y="328.90" font-size="16.20" font-family='"Liberation Serif", serif' style="stroke-width:0" fill="#000">(</text>
<text x="467.81" y="328.90" font-size="14.93" font-family='"Liberation Serif", serif' style="stroke-width:0" font-weight="bold" fill="#000">b</text>
<text x="476.00" y="328.90" font-size="16.20" font-family='"Liberation Serif", serif' style="stroke-width:0" fill="#000">)</text>
<text x="492.22" y="329.80" font-size="17.50" font-family='"Liberation Serif", serif' style="stroke-width:0" fill="#000" textLength="40.67" lengthAdjust="spacingAndGlyphs">Event</text>
<text x="539.43" y="329.80" font-size="18.00" font-family='"Liberation Serif", serif' style="stroke-width:0" font-style="italic" fill="#000">p</text>
<text x="548.17" y="332.40" font-size="11.90" font-family='"Liberation Serif", serif' style="stroke-width:0" fill="#000" textLength="8.14" lengthAdjust="spacingAndGlyphs">T</text>
<text x="556.13" y="329.80" font-size="17.50" font-family='"Liberation Serif", serif' style="stroke-width:0" fill="#000" textLength="60.87" lengthAdjust="spacingAndGlyphs">-density,</text>
<text x="624.49" y="329.80" font-size="17.50" font-family='"Liberation Serif", serif' style="stroke-width:0" font-style="italic" fill="#000" textLength="9.40" lengthAdjust="spacingAndGlyphs">ρ</text>
</svg>
</body></html>
